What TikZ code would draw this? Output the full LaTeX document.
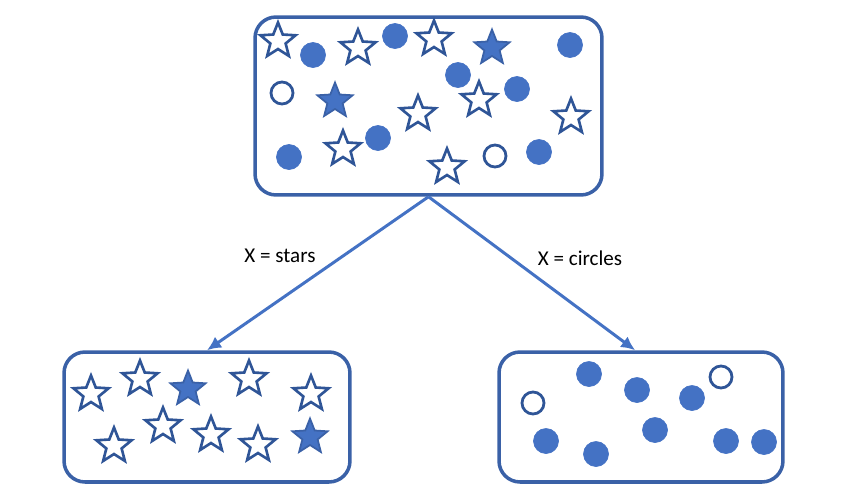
\documentclass[tikz,border=0pt]{standalone}
\usepackage{fontspec}
\setmainfont{Carlito}
\usetikzlibrary{arrows.meta,shapes.geometric}
\definecolor{setblue}{HTML}{4472C4}
\definecolor{setedge}{HTML}{2F5597}

\begin{document}
\begin{tikzpicture}[
  x=0.02cm,
  y=-0.02cm,
  every node/.style={font=\fontsize{12}{14}\selectfont, black},
  setbox/.style={draw=setblue!85!black, line width=2pt, rounded corners=0.42cm,
                 inner sep=0pt},
  branch/.style={setblue, line width=1.7pt, {-Latex[length=8pt,width=7.5pt]}},
  hstar/.style={star, star points=5, star point ratio=2.3, minimum size=0.74cm,
                inner sep=0pt, draw=setedge, line width=1.5pt, fill=white},
  fstar/.style={hstar, fill=setblue, draw=setblue!85!black, line width=1pt},
  fdot/.style={circle, minimum size=0.5cm, inner sep=0pt, fill=setblue,
               draw=setblue},
  hdot/.style={circle, minimum size=0.44cm, inner sep=0pt, fill=white,
               draw=setedge, line width=1.6pt}
]
  \useasboundingbox (0,0) rectangle (863,484);

  % ---- the three sets ------------------------------------------------
  \node[setbox, minimum width=6.94cm, minimum height=3.56cm] (root) at (428.5,106) {};
  \node[setbox, minimum width=5.72cm, minimum height=2.6cm] (leftbox) at (207,417) {};
  \node[setbox, minimum width=5.68cm, minimum height=2.6cm] (rightbox) at (641,417) {};

  % ---- mixed set on top ------------------------------------------------
  \foreach \x/\y [count=\i] in {313/55, 395/36, 570/45, 458/75, 517/89,
                                289/157, 378/138, 539/152}
    \node[fdot] (tc\i) at (\x,\y) {};
  \foreach \x/\y [count=\i] in {282/93, 495/156}
    \node[hdot] (th\i) at (\x,\y) {};
  \foreach \x/\y [count=\i] in {278/41, 358/48, 434/39, 479/100, 418/114,
                                571/117, 343/149, 447/167}
    \node[hstar] (ts\i) at (\x,\y) {};
  \foreach \x/\y [count=\i] in {492/48, 335/101}
    \node[fstar] (tf\i) at (\x,\y) {};

  % ---- stars only, bottom left -----------------------------------------
  \foreach \x/\y [count=\i] in {91/394, 140/379, 249/379, 311/394,
                                114/446, 163/426, 211/435, 258/445}
    \node[hstar] (ls\i) at (\x,\y) {};
  \foreach \x/\y [count=\i] in {188/389, 310/437}
    \node[fstar] (lf\i) at (\x,\y) {};

  % ---- circles only, bottom right --------------------------------------
  \foreach \x/\y [count=\i] in {589/374, 637/390, 692/398, 546/441,
                                596/454, 655/430, 726/441, 764/442}
    \node[fdot] (rc\i) at (\x,\y) {};
  \foreach \x/\y [count=\i] in {721/377, 533/403}
    \node[hdot] (rh\i) at (\x,\y) {};

  % ---- split -----------------------------------------------------------
  \draw[branch] (root.south) -- (leftbox.north);
  \draw[branch] (root.south) -- (rightbox.95);
  \node (lstars) at (280,256) {X = stars};
  \node (lcircles) at (580,258) {X = circles};
\end{tikzpicture}
\end{document}
